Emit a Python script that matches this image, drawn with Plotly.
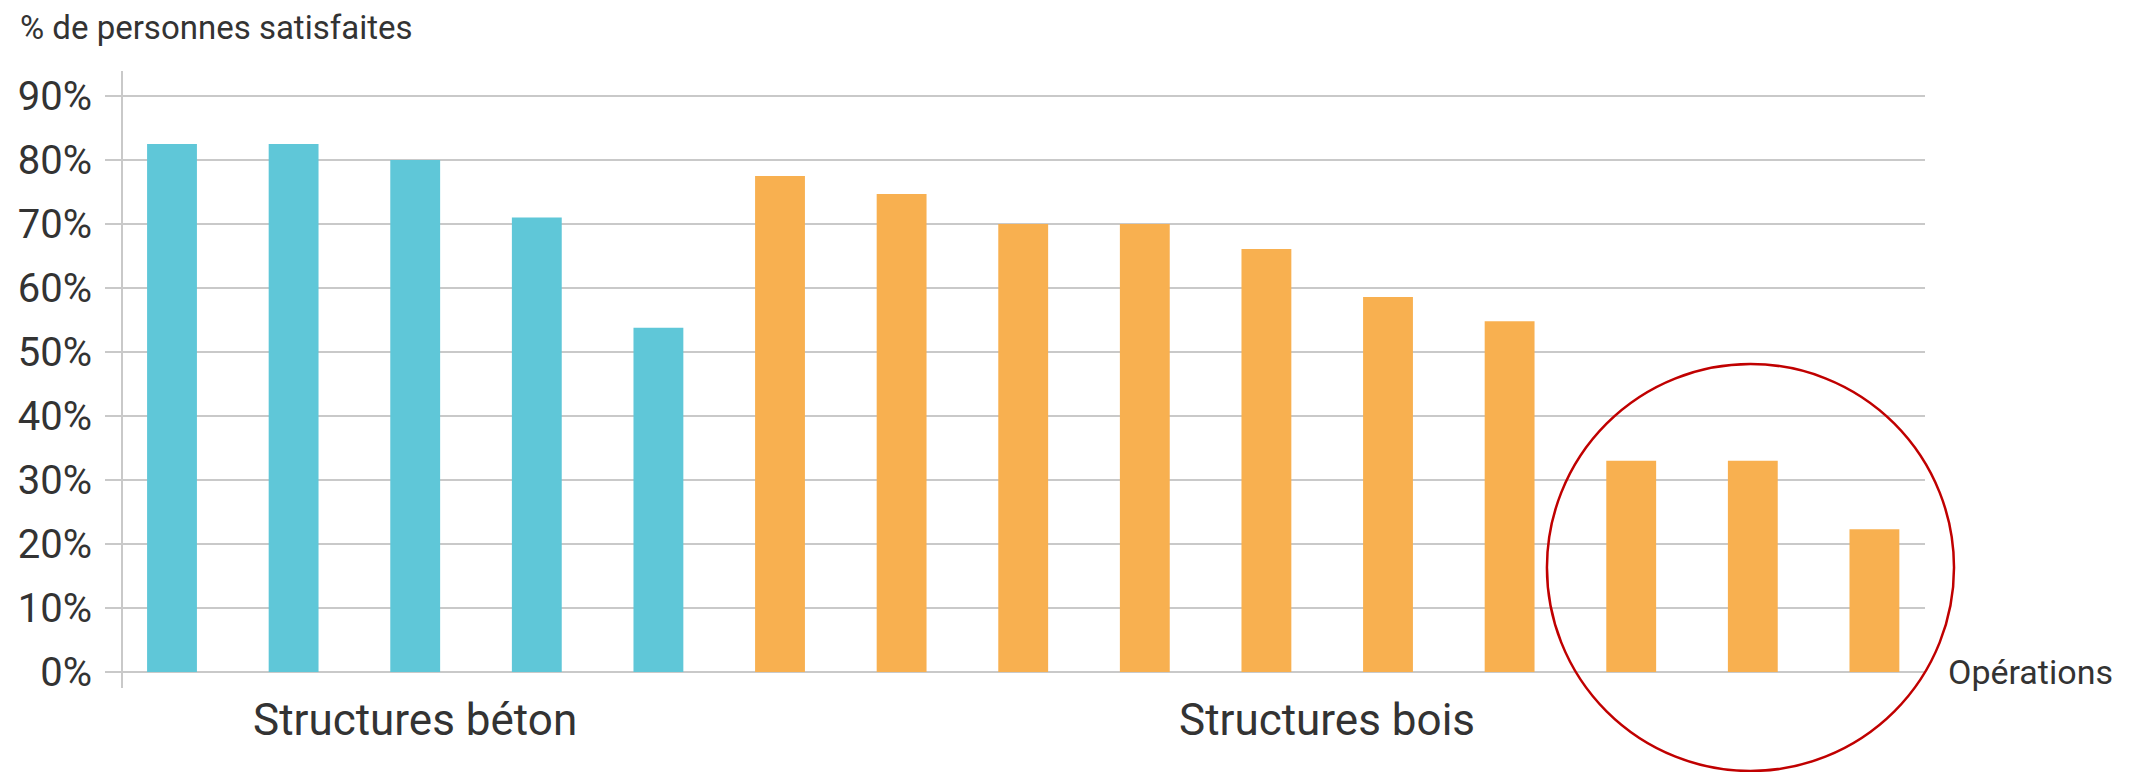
import plotly.graph_objects as go

# ---- data ----
operations = list(range(15))
groups = ["Structures béton"] * 5 + ["Structures bois"] * 10
satisfaction = [82.5, 82.5, 80.0, 71.0, 53.8, 77.5, 74.7, 70.0, 70.0, 66.1, 58.6, 54.8, 33.0, 33.0, 22.3]
group_names = ["Structures béton", "Structures bois"]
group_colors = {"Structures béton": "#5FC7D8", "Structures bois": "#F8B050"}
y_ticks = [0, 10, 20, 30, 40, 50, 60, 70, 80, 90]
y_ticklabels = [f"{v}%" for v in y_ticks]

FONT = "Roboto"
TXT = "#333333"
GRID = "#C9C9C9"

fig = go.Figure()
for g in group_names:
    xs = [o for o, gg in zip(operations, groups) if gg == g]
    ys = [v for v, gg in zip(satisfaction, groups) if gg == g]
    fig.add_trace(go.Bar(x=xs, y=ys, width=0.41, marker=dict(color=group_colors[g], line=dict(width=0)),
                         name=g, showlegend=False))

# group labels under the bars
for g in group_names:
    xs = [o for o, gg in zip(operations, groups) if gg == g]
    fig.add_annotation(x=sum(xs) / len(xs), xref="x", y=-0.052, yref="paper", text=g, showarrow=False,
                       xanchor="center", yanchor="middle", font=dict(family=FONT, size=44, color=TXT))

fig.add_annotation(x=1.0117, xref="paper", y=0, yref="y", text="Opérations", showarrow=False,
                   xanchor="left", yanchor="middle", font=dict(family=FONT, size=34, color=TXT))
fig.add_annotation(x=-0.0583, xref="paper", y=1.0713, yref="paper", text="% de personnes satisfaites",
                   showarrow=False, xanchor="left", yanchor="middle", font=dict(family=FONT, size=33, color=TXT))

# highlight circle
fig.add_shape(type="circle", xref="paper", yref="paper", x0=0.7902, x1=1.0161, y0=-0.1345, y1=0.5251,
              line=dict(color="#C00000", width=2.5), layer="above")

fig.update_layout(
    width=2136, height=772,
    margin=dict(l=123, r=211, t=71, b=84),
    paper_bgcolor="white", plot_bgcolor="white",
    bargap=0.59,
    xaxis=dict(range=[-0.403, 14.416], showgrid=False, zeroline=False, showline=False,
               showticklabels=False, ticks=""),
    yaxis=dict(range=[-2.5, 93.9], tickvals=y_ticks, ticktext=y_ticklabels, showgrid=True,
               gridcolor=GRID, gridwidth=2, zeroline=False, showline=True, linecolor=GRID, linewidth=2,
               ticks="outside", ticklen=16, tickwidth=2, tickcolor=GRID, ticklabelstandoff=5,
               tickfont=dict(family=FONT, size=40, color=TXT)),
)

fig.write_html("out.html")
